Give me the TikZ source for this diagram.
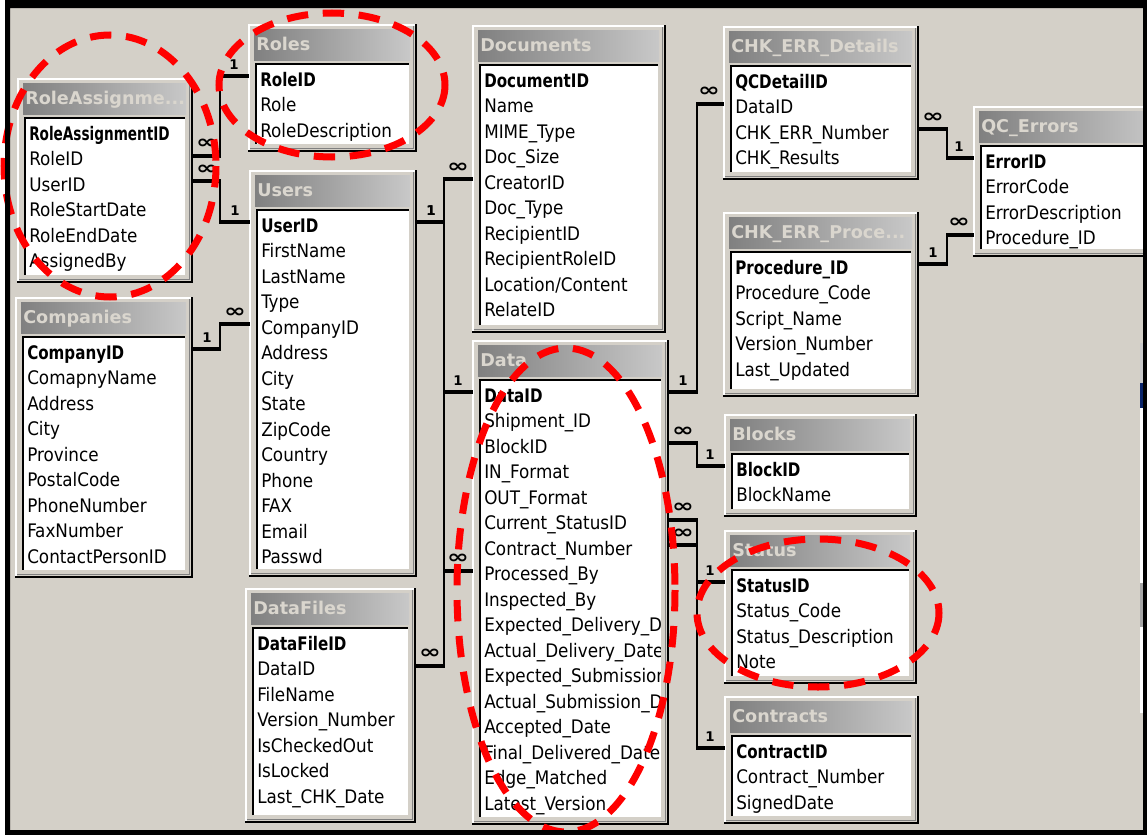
\documentclass[tikz,border=0pt]{standalone}
\usepackage{fontspec}
\usetikzlibrary{calc,fit}

\newfontfamily\fieldfont{DejaVu Sans Condensed}[BoldFont={DejaVu Sans Condensed Bold},
  BoldFeatures={FakeStretch=0.9}]
\newfontfamily\capfont{DejaVu Sans}

\definecolor{winface}{HTML}{D4D0C8}
\definecolor{titledark}{HTML}{808080}
\definecolor{titlelight}{HTML}{C8C8C8}
\definecolor{titletext}{HTML}{DAD6CE}
\definecolor{framemidc}{HTML}{808080}
\definecolor{ovalred}{HTML}{FF0000}
\definecolor{selnavy}{HTML}{0A246A}

\tikzset{
  framelight/.style={draw=white, line width=1.5pt},
  framedark/.style={draw=black, line width=1.5pt},
  framemid/.style={draw=framemidc, line width=1pt},
  listedge/.style={draw=black, line width=1.5pt},
  captiontext/.style={font=\capfont\bfseries\fontsize{13.2}{15}\selectfont, text=titletext,
    inner sep=0pt, anchor=base west},
  field/.style={font=\fieldfont\fontsize{14}{16}\selectfont, inner sep=0pt,
    text height=14.5pt, text depth=0pt, anchor=base west},
  relbus/.style={draw=black, line width=1.5pt, line cap=rect},
  relend/.style={draw=black, line width=3pt, shorten <=-0.75pt, shorten >=-0.75pt},
  cardinal/.style={font=\capfont\bfseries\fontsize{10}{10}\selectfont, inner sep=0pt},
  oval/.style={draw=ovalred, line width=5.25pt, dash pattern=on 16pt off 11pt},
}

\newcommand\many{{\fontsize{14}{14}\selectfont\scalebox{1.4}[1]{∞}}}

% #1 id, #2 left, #3 top, #4 right, #5 bottom, #6 caption, #7 fields (first one is the key)
\newcommand\dbtable[7]{%
  \node[fit={(#2,#3) (#4,#5)}, inner sep=0pt, outer sep=0pt] (#1) {};
  \fill[winface] (#2,#3) rectangle (#4,#5);
  \draw[framelight] (#2+1,#5-2) -- (#2+1,#3+1) -- (#4-2,#3+1);
  \draw[framedark] (#2,#5-1) -- (#4-1,#5-1) -- (#4-1,#3);
  \draw[framemid] (#2+2,#5-3.5) -- (#4-3.5,#5-3.5) -- (#4-3.5,#3+2);
  \shade[left color=titledark, right color=titlelight] (#2+6,#3+5) rectangle (#4-7,#3+36);
  \begin{scope}
    \clip (#2+6,#3+5) rectangle (#4-7,#3+36);
    \node[captiontext] (#1-title) at (#2+8,#3+26.5) {#6};
  \end{scope}
  \fill[white] (#2+7,#3+39) rectangle (#4-8,#5-8);
  \draw[listedge] (#2+8,#5-8) -- (#2+8,#3+40) -- (#4-8,#3+40);
  \begin{scope}
    \clip (#2+9,#3+41) rectangle (#4-9,#5-9);
    \foreach \f [count=\i from 0] in {#7}
      \node[field] (#1-\i) at (#2+12,#3+62+25.5*\i) {\ifnum\i=0 \bfseries\fi\f};
  \end{scope}
}

% #1 id, #2 from table, #3 from row, #4 bus, #5 to table, #6 to row, #7 from mark, #8 to mark
\newcommand\link[8]{%
  \draw[relbus] (#2-#3 -| #4) -- (#5-#6 -| #4);
  \draw[relend] (#2-#3 -| #2.east) -- (#2-#3 -| #4);
  \draw[relend] (#5-#6 -| #4) -- (#5-#6 -| #5.west);
  \path (#2-#3 -| #2.east) ++(14,-12) node[cardinal] (#1-a) {#7};
  \path (#5-#6 -| #5.west) ++(-14,-12) node[cardinal] (#1-b) {#8};
}

\begin{document}
\begin{tikzpicture}[x=0.75pt, y=-0.75pt]
\useasboundingbox (0,0) rectangle (1147,835);
\fill[white] (0,0) rectangle (1147,835);
\fill[winface] (10,8) rectangle (1143,830);

\dbtable{ra}{17}{78}{193}{283}{RoleAssignme...}
  {\scalebox{0.9}[1]{RoleAssignmentID},RoleID,UserID,RoleStartDate,RoleEndDate,AssignedBy}
\dbtable{roles}{248}{24}{417}{152}{Roles}
  {RoleID,Role,RoleDescription}
\dbtable{users}{249}{170}{417}{577}{Users}
  {UserID,FirstName,LastName,Type,CompanyID,Address,City,State,ZipCode,Country,Phone,FAX,Email,Passwd}
\dbtable{companies}{15}{297}{193}{578}{Companies}
  {CompanyID,ComapnyName,Address,City,Province,PostalCode,PhoneNumber,FaxNumber,ContactPersonID}
\dbtable{documents}{472}{25}{666}{333}{Documents}
  {DocumentID,Name,MIME\_Type,Doc\_Size,CreatorID,Doc\_Type,RecipientID,RecipientRoleID,Location/Content,RelateID}
\dbtable{data}{472}{340}{669}{825}{Data}
  {DataID,Shipment\_ID,BlockID,IN\_Format,OUT\_Format,Current\_StatusID,Contract\_Number,Processed\_By,Inspected\_By,Expected\_Delivery\_D,Actual\_Delivery\_Date,Expected\_Submission,Actual\_Submission\_D,Accepted\_Date,Final\_Delivered\_Date,Edge\_Matched,Latest\_Version}
\dbtable{datafiles}{245}{588}{416}{823}{DataFiles}
  {DataFileID,DataID,FileName,Version\_Number,IsCheckedOut,IsLocked,Last\_CHK\_Date}
\dbtable{chkd}{723}{26}{919}{180}{CHK\_ERR\_Details}
  {QCDetailID,DataID,CHK\_ERR\_Number,CHK\_Results}
\dbtable{chkp}{723}{212}{919}{397}{CHK\_ERR\_Proce...}
  {Procedure\_ID,Procedure\_Code,Script\_Name,Version\_Number,Last\_Updated}
\dbtable{qce}{973}{106}{1165}{257}{QC\_Errors}
  {ErrorID,ErrorCode,ErrorDescription,Procedure\_ID}
\dbtable{blocks}{724}{414}{917}{517}{Blocks}
  {BlockID,BlockName}
\dbtable{status}{724}{530}{917}{684}{Status}
  {StatusID,Status\_Code,Status\_Description,Note}
\dbtable{contracts}{724}{696}{919}{824}{Contracts}
  {ContractID,Contract\_Number,SignedDate}

% edge of a further table window at the right border
\fill[white] (1140,343) rectangle (1143,713);
\fill[titlelight] (1140,343) rectangle (1143,383);
\fill[selnavy] (1140,383) rectangle (1143,408);
\fill[titledark!70] (1140,583) rectangle (1143,627);

% vertical runs of the join lines
\coordinate (busA) at (220,0);
\coordinate (busB) at (444,0);
\coordinate (busC) at (697,0);
\coordinate (busD) at (947,0);

\link{lkRole}{ra}{1}{busA}{roles}{0}{\many}{1}
\link{lkUser}{ra}{2}{busA}{users}{0}{\many}{1}
\link{lkComp}{companies}{0}{busA}{users}{4}{1}{\many}
\link{lkDoc}{users}{0}{busB}{documents}{4}{1}{\many}
\link{lkProc}{users}{0}{busB}{data}{7}{1}{\many}
\link{lkFile}{datafiles}{1}{busB}{data}{0}{\many}{1}
\link{lkChk}{data}{0}{busC}{chkd}{1}{1}{\many}
\link{lkBlock}{data}{2}{busC}{blocks}{0}{\many}{1}
\link{lkStat}{data}{5}{busC}{status}{0}{\many}{1}
\link{lkCont}{data}{6}{busC}{contracts}{0}{\many}{1}
\link{lkErr}{chkd}{2}{busD}{qce}{0}{\many}{1}
\link{lkPrc}{chkp}{0}{busD}{qce}{3}{1}{\many}

% red highlight rings
\draw[oval] (110,166) ellipse [x radius=106, y radius=131];
\draw[oval] (332,85) ellipse [x radius=113, y radius=72];
\draw[oval] (566,590) ellipse [x radius=109, y radius=242];
\draw[oval] (818,613) ellipse [x radius=121, y radius=74];

% window border
\fill[black, even odd rule] (5,0) rectangle (1147,835) (10,8) rectangle (1143,830);
\end{tikzpicture}
\end{document}
